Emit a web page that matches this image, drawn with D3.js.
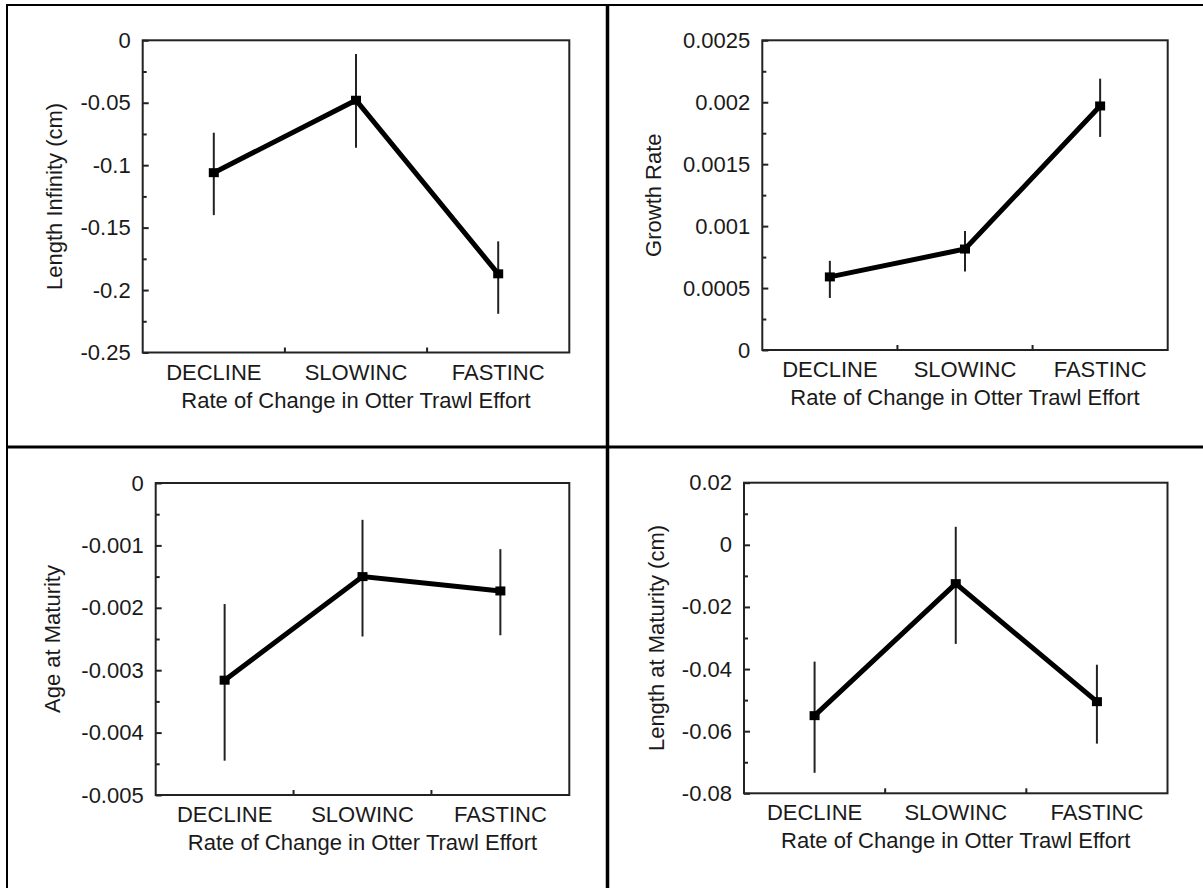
<!DOCTYPE html>
<html>
<head>
<meta charset="utf-8">
<script src="https://cdn.jsdelivr.net/npm/d3@7"></script>
<style>
  html, body { margin: 0; padding: 0; background: #fff; }
  svg { display: block; }
  text { font-family: "Liberation Sans", Arial, sans-serif; fill: #1a1a1a; }
</style>
</head>
<body>
<svg id="chart" width="1203" height="888"></svg>
<script>
// ---------------- DATA ----------------
const categories = ["DECLINE", "SLOWINC", "FASTINC"];
const xTitle = "Rate of Change in Otter Trawl Effort";

// Length Infinity (cm)
const lenInfMean = [-0.106, -0.048, -0.187];
const lenInfLow  = [-0.140, -0.086, -0.219];
const lenInfHigh = [-0.074, -0.011, -0.161];
const lenInfTicks = [0, -0.05, -0.1, -0.15, -0.2, -0.25];
const lenInfTickLabels = ["0", "-0.05", "-0.1", "-0.15", "-0.2", "-0.25"];

// Growth Rate
const growthMean = [0.00059, 0.000815, 0.00197];
const growthLow  = [0.00042, 0.000634, 0.00172];
const growthHigh = [0.00072, 0.00096, 0.00219];
const growthTicks = [0.0025, 0.002, 0.0015, 0.001, 0.0005, 0];
const growthTickLabels = ["0.0025", "0.002", "0.0015", "0.001", "0.0005", "0"];

// Age at Maturity
const ageMatMean = [-0.00316, -0.00150, -0.00173];
const ageMatLow  = [-0.00445, -0.00246, -0.00244];
const ageMatHigh = [-0.00194, -0.00059, -0.00106];
const ageMatTicks = [0, -0.001, -0.002, -0.003, -0.004, -0.005];
const ageMatTickLabels = ["0", "-0.001", "-0.002", "-0.003", "-0.004", "-0.005"];

// Length at Maturity (cm)
const lenMatMean = [-0.055, -0.0125, -0.0505];
const lenMatLow  = [-0.0734, -0.0319, -0.064];
const lenMatHigh = [-0.0376, 0.0058, -0.0386];
const lenMatTicks = [0.02, 0, -0.02, -0.04, -0.06, -0.08];
const lenMatTickLabels = ["0.02", "0", "-0.02", "-0.04", "-0.06", "-0.08"];

// ---------------- LAYOUT ----------------
const panels = [
  { label: "Length Infinity (cm)", mean: lenInfMean, low: lenInfLow, high: lenInfHigh,
    ticks: lenInfTicks, tickLabels: lenInfTickLabels,
    left: 142.7, right: 569.3, top: 40.3, bottom: 352.5, labelX: 61.5 },
  { label: "Growth Rate", mean: growthMean, low: growthLow, high: growthHigh,
    ticks: growthTicks, tickLabels: growthTickLabels,
    left: 762.3, right: 1167.7, top: 40.3, bottom: 350, labelX: 661 },
  { label: "Age at Maturity", mean: ageMatMean, low: ageMatLow, high: ageMatHigh,
    ticks: ageMatTicks, tickLabels: ageMatTickLabels,
    left: 155.7, right: 569.3, top: 483, bottom: 795, labelX: 59.5 },
  { label: "Length at Maturity (cm)", mean: lenMatMean, low: lenMatLow, high: lenMatHigh,
    ticks: lenMatTicks, tickLabels: lenMatTickLabels,
    left: 744, right: 1167.5, top: 482.7, bottom: 793.3, labelX: 663.5 }
];

const svg = d3.select("#chart");
const FONT = 22;

// outer frame / dividers
const frame = svg.append("g").attr("stroke", "#000").attr("fill", "none");
frame.append("line").attr("x1", 6).attr("x2", 1203).attr("y1", 5).attr("y2", 5).attr("stroke-width", 2);
frame.append("line").attr("x1", 7).attr("x2", 7).attr("y1", 4).attr("y2", 888).attr("stroke-width", 2);
frame.append("line").attr("x1", 607.5).attr("x2", 607.5).attr("y1", 4).attr("y2", 888).attr("stroke-width", 3.5);
frame.append("line").attr("x1", 6).attr("x2", 1203).attr("y1", 447).attr("y2", 447).attr("stroke-width", 3);

panels.forEach(p => {
  const domainMax = d3.max(p.ticks), domainMin = d3.min(p.ticks);
  const y = d3.scaleLinear().domain([domainMin, domainMax]).range([p.bottom, p.top]);
  const x = d3.scaleBand().domain(categories).range([p.left, p.right]).padding(0);
  const g = svg.append("g");

  // y major ticks (inward)
  const yAxis = d3.axisLeft(y).tickValues(p.ticks)
    .tickFormat((d, i) => p.tickLabels[i])
    .tickSizeInner(-6).tickSizeOuter(0).tickPadding(12);
  const ya = g.append("g").attr("transform", `translate(${p.left},0)`).call(yAxis);
  ya.select(".domain").remove();
  ya.selectAll("line").attr("stroke", "#222").attr("stroke-width", 2);
  ya.selectAll("text").attr("font-size", FONT).attr("font-family", "Liberation Sans, Arial, sans-serif")
    .attr("fill", "#1a1a1a");

  // y minor ticks
  const sorted = p.ticks.slice().sort((a, b) => a - b);
  const minors = d3.pairs(sorted).map(([a, b]) => (a + b) / 2);
  const yMinor = d3.axisLeft(y).tickValues(minors).tickFormat("").tickSizeInner(-4).tickSizeOuter(0);
  const ym = g.append("g").attr("transform", `translate(${p.left},0)`).call(yMinor);
  ym.select(".domain").remove();
  ym.selectAll("line").attr("stroke", "#222").attr("stroke-width", 2);

  // x labels
  const xAxis = d3.axisBottom(x).tickSize(0).tickPadding(11.5);
  const xa = g.append("g").attr("transform", `translate(0,${p.bottom})`).call(xAxis);
  xa.select(".domain").remove();
  xa.selectAll("text").attr("font-size", FONT).attr("font-family", "Liberation Sans, Arial, sans-serif")
    .attr("fill", "#1a1a1a");

  // x boundary ticks (inward)
  const bounds = categories.slice(1).map(c => x(c));
  g.selectAll(".xb").data(bounds).join("line")
    .attr("x1", d => d).attr("x2", d => d)
    .attr("y1", p.bottom).attr("y2", p.bottom - 5)
    .attr("stroke", "#222").attr("stroke-width", 2);

  // plot frame
  g.append("rect")
    .attr("x", p.left).attr("y", p.top)
    .attr("width", p.right - p.left).attr("height", p.bottom - p.top)
    .attr("fill", "none").attr("stroke", "#222").attr("stroke-width", 2);

  // x title
  g.append("text")
    .attr("x", (p.left + p.right) / 2).attr("y", p.bottom + 55)
    .attr("text-anchor", "middle").attr("font-size", FONT)
    .text(xTitle);

  // y title
  g.append("text")
    .attr("transform", `translate(${p.labelX},${(p.top + p.bottom) / 2}) rotate(-90)`)
    .attr("text-anchor", "middle").attr("font-size", FONT)
    .text(p.label);

  const cx = c => x(c) + x.bandwidth() / 2;

  // error bars
  g.selectAll(".err").data(categories).join("line")
    .attr("x1", cx).attr("x2", cx)
    .attr("y1", (c, i) => y(p.low[i])).attr("y2", (c, i) => y(p.high[i]))
    .attr("stroke", "#222").attr("stroke-width", 2);

  // mean line
  const line = d3.line().x((d, i) => cx(categories[i])).y(d => y(d));
  g.append("path").datum(p.mean)
    .attr("d", line).attr("fill", "none")
    .attr("stroke", "#000").attr("stroke-width", 5).attr("stroke-linejoin", "miter");

  // markers
  g.selectAll(".mk").data(categories).join("rect")
    .attr("x", c => cx(c) - 5).attr("y", (c, i) => y(p.mean[i]) - 4.5)
    .attr("width", 10).attr("height", 9).attr("fill", "#000");
});
</script>
</body>
</html>
